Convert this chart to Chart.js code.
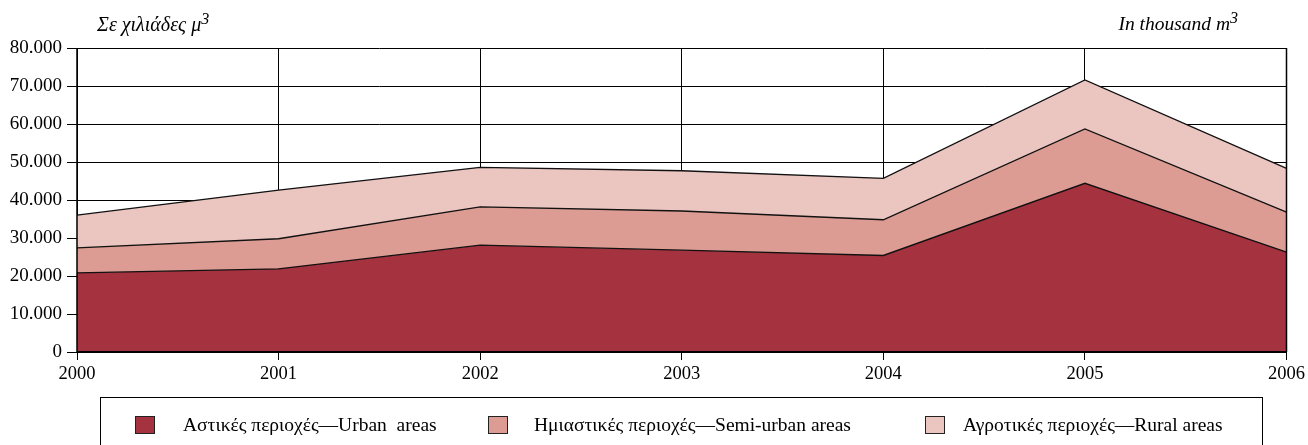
<!DOCTYPE html>
<html>
<head>
<meta charset="utf-8">
<script src="https://cdn.jsdelivr.net/npm/chart.js@4/dist/chart.umd.min.js"></script>
<style>
  html,body{margin:0;padding:0;background:#fff;overflow:hidden;}
  #wrap{position:relative;width:1308px;height:445px;font-family:"Liberation Serif","Times New Roman",serif;}
  #chart{position:absolute;left:0;top:0;}
  .unit{position:absolute;top:14px;font-style:italic;font-size:20px;line-height:1;color:#000;}
  .unit sup{font-size:16px;vertical-align:7px;line-height:0;}
  #legend{position:absolute;left:100px;top:397px;width:1163px;height:70px;border:1px solid #000;box-sizing:border-box;}
  .item{position:absolute;top:17px;font-size:19.5px;line-height:1;color:#000;white-space:pre;}
  .sw{position:absolute;top:18px;width:20px;height:18px;border:1px solid #222;box-sizing:border-box;}
</style>
</head>
<body>
<div id="wrap">
  <canvas id="chart" width="1308" height="445"></canvas>
  <div class="unit" style="left:97px">Σε χιλιάδες μ<sup>3</sup></div>
  <div class="unit" style="right:70px;font-size:19.5px">In thousand m<sup>3</sup></div>
  <div id="legend"></div>
</div>
<script>
// years on the x axis
const years = ['2000','2001','2002','2003','2004','2005','2006'];

// thousand m3 per area type (stacked)
const urban     = [20800, 21900, 28100, 26800, 25400, 44400, 26300];
const semiUrban = [ 6600,  7900, 10100, 10300,  9400, 14300, 10500];
const rural     = [ 8600, 12800, 10400, 10600, 10900, 12900, 11500];

const seriesLabels = [
  'Αστικές περιοχές—Urban  areas',
  'Ημιαστικές περιοχές—Semi-urban areas',
  'Αγροτικές περιοχές—Rural areas'
];
const seriesColors = ['#a5323f', '#dc9c93', '#ebc5c0'];

const yTicks = [0, 10000, 20000, 30000, 40000, 50000, 60000, 70000, 80000];

function fmt(v){ return v===0 ? '0' : v.toString().replace(/\B(?=(\d{3})+(?!\d))/g,'.'); }

// frame over the fills (left, right, bottom edge of plot)
const framePlugin = {
  id:'frame',
  afterDatasetsDraw(chart){
    const {ctx, chartArea:a} = chart;
    ctx.save();
    ctx.strokeStyle = '#000';
    ctx.lineWidth = 1.5;
    ctx.beginPath();
    ctx.moveTo(a.left, a.top); ctx.lineTo(a.left, a.bottom);
    ctx.moveTo(a.right, a.top); ctx.lineTo(a.right, a.bottom);
    ctx.stroke();
    ctx.lineWidth = 2;
    ctx.beginPath();
    ctx.moveTo(a.left, a.bottom); ctx.lineTo(a.right, a.bottom);
    ctx.stroke();
    ctx.restore();
  }
};

const data = [urban, semiUrban, rural];
const datasets = data.map((vals,i)=>({
  label: seriesLabels[i],
  data: vals,
  backgroundColor: seriesColors[i],
  borderColor: '#111',
  borderWidth: 1.3,
  pointRadius: 0,
  tension: 0,
  fill: i===0 ? 'origin' : '-1'
}));

new Chart(document.getElementById('chart'), {
  type:'line',
  data:{ labels: years, datasets },
  plugins:[framePlugin],
  options:{
    responsive:false,
    animation:false,
    layout:{ padding:{ top:48, right:19, left:0, bottom:0 } },
    plugins:{ legend:{ display:false }, tooltip:{ enabled:false } },
    scales:{
      x:{
        grid:{ color:'#000', lineWidth:1, tickLength:8, drawTicks:true },
        border:{ display:false },
        ticks:{ color:'#000', font:{ family:'Liberation Serif', size:18.5 }, padding:3, maxRotation:0, autoSkip:false },
        afterFit(s){ s.height = 93; }
      },
      y:{
        stacked:true,
        min:0, max:80000,
        afterBuildTicks(s){ s.ticks = yTicks.map(v=>({value:v})); },
        grid:{ color:'#000', lineWidth:1, tickLength:10 },
        border:{ display:false },
        ticks:{ color:'#000', font:{ family:'Liberation Serif', size:19 }, padding:5, callback:v=>fmt(v) },
        afterFit(s){ s.width = 77; }
      }
    }
  }
});

// legend as html: swatch and text offsets inside the legend box
const swatchLeft = [34, 387, 824];
const textLeft = [82, 433, 862];
const legend = document.getElementById('legend');
seriesLabels.forEach((lab,i)=>{
  const sw = document.createElement('div');
  sw.className = 'sw';
  sw.style.left = swatchLeft[i] + 'px';
  sw.style.background = seriesColors[i];
  legend.appendChild(sw);
  const d = document.createElement('div');
  d.className = 'item';
  d.style.left = textLeft[i] + 'px';
  d.textContent = lab;
  legend.appendChild(d);
});
</script>
</body>
</html>
